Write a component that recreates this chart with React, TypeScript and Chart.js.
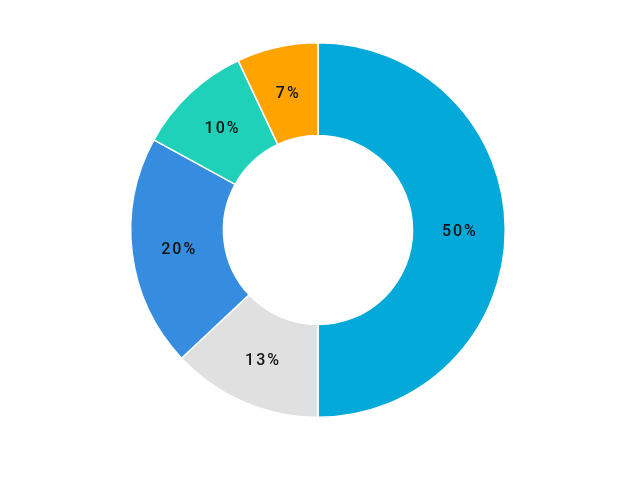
import React, { useEffect, useRef } from "react";
import { Chart, registerables } from "chart.js";

Chart.register(...registerables);

const categories = ["A", "B", "C", "D", "E"];
const values = [50, 13, 20, 10, 7];
const labels = ["50%", "13%", "20%", "10%", "7%"];
const colors = ["#02A9D9", "#E0E0E0", "#368DE0", "#20D1BA", "#FFA300"];

const labelPlugin = {
  id: "sliceLabels",
  afterDatasetsDraw(chart: any) {
    const ctx = chart.ctx;
    const meta = chart.getDatasetMeta(0);
    ctx.save();
    ctx.font = "500 16px Roboto";
    (ctx as any).letterSpacing = "2px";
    ctx.fillStyle = "#111";
    ctx.textAlign = "center";
    ctx.textBaseline = "middle";
    meta.data.forEach((arc: any, i: number) => {
      const p = arc.tooltipPosition();
      ctx.fillText(labels[i], p.x + 1, p.y + 2);
    });
    ctx.restore();
  },
};

export default function App() {
  const ref = useRef<HTMLCanvasElement>(null);
  useEffect(() => {
    const chart = new Chart(ref.current!, {
      type: "doughnut",
      data: {
        labels: categories,
        datasets: [
          {
            data: values,
            backgroundColor: colors,
            borderColor: "#ffffff",
            borderWidth: 1.5,
          },
        ],
      },
      options: {
        animation: false,
        responsive: true,
        maintainAspectRatio: false,
        cutout: "50.5%",
        layout: { padding: { top: 34, bottom: 34 } },
        plugins: { legend: { display: false }, tooltip: { enabled: false } },
      },
      plugins: [labelPlugin],
    });
    return () => chart.destroy();
  }, []);
  return (
    <div style={{ width: 620, height: 444 }}>
      <canvas ref={ref} />
    </div>
  );
}
